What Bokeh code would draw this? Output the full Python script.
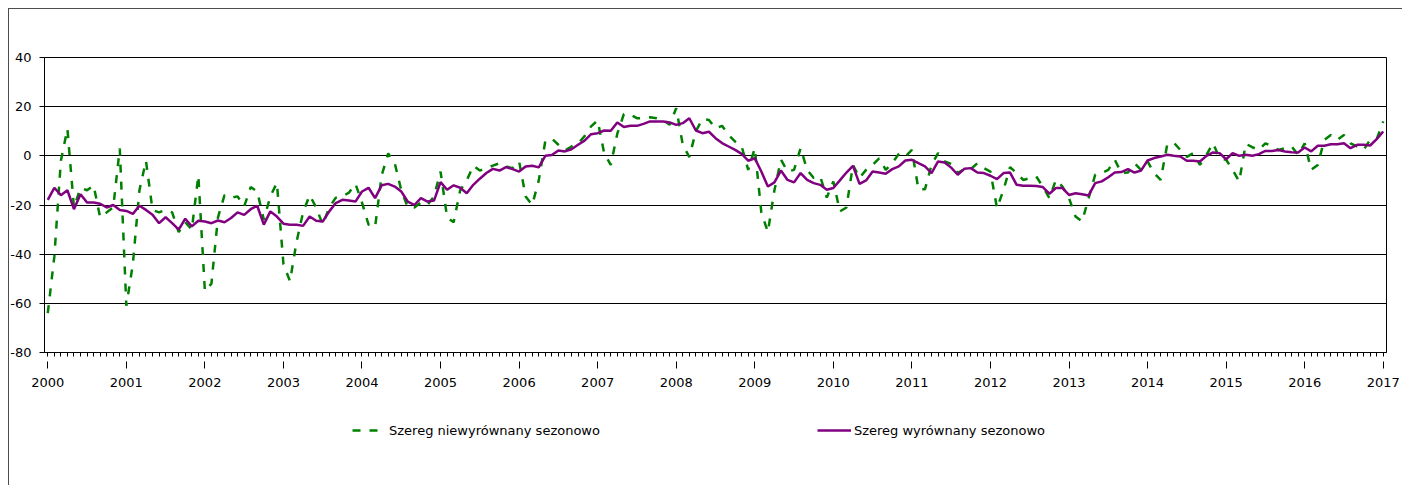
from bokeh.plotting import figure
from bokeh.layouts import column
from bokeh.models import FixedTicker, Legend, LegendItem, Range1d
from bokeh.embed import file_html
from bokeh.resources import INLINE

# ---- data (monthly, Jan 2000 .. Jan 2017) ----
years = [str(y) for y in range(2000, 2018)]
y_ticks = [-80, -60, -40, -20, 0, 20, 40]
labels = ["Szereg niewyrównany sezonowo", "Szereg wyrównany sezonowo"]

unadjusted = [
    -64, -41, -2, 11, -21, -13, -14, -12, -25, -23, -21, 3,            # 2000
    -61, -44, -14, -2, -22, -23, -22, -23, -31, -27, -30, -8,          # 2001
    -55, -52, -25, -16, -17, -16.5, -20.6, -12.7, -14.5, -26, -16.5, -11,  # 2002
    -44, -51, -35, -23, -16, -21, -28, -21, -17, -16.5, -15, -11.4,    # 2003
    -19, -28, -29, -8, 1, -3, -14, -21, -21, -19, -20, -16.5,          # 2004
    -6.4, -25, -27, -14, -10, -4, -6, -5, -4, -3, -4.3, -5,            # 2005
    -2.3, -16.5, -20, -10, 6, 7, 4.5, 2.2, 3.8, 5, 8, 12,              # 2006
    14.4, 1, -3.7, 9, 17, 16.7, 15.3, 15.3, 15.7, 15.3, 14.6, 12.6,    # 2007
    19.4, 4.5, -0.5, 10, 15, 14.6, 11.2, 12.2, 8.5, 5.8, 3.8, -5.7,    # 2008
    3.1, -23, -31, -14, -1.6, -6.4, -5.7, 3.1, -5.7, -9, -8.4, -17,    # 2009
    -10.4, -22.6, -21, -3.7, -9, -5.7, -3.7, -1, -5.7, -3, 0.8, -0.3,  # 2010
    2.4, -13.6, -13.6, -3.7, 1.1, -2.3, -3.3, -7, -5.4, -5.4, -3, -5,  # 2011
    -6.4, -21.3, -13.8, -4.6, -7, -9.8, -9.1, -8.4, -12.5, -17.2, -9.8, -12.5,  # 2012
    -17.2, -24.7, -26.7, -17.2, -7.7, -7, -5.7, -1.6, -7, -6.8, -3, -5.7,  # 2013
    -2.3, -7, -9.8, 4.5, 5.4, 2.4, -0.4, 1.1, -3.7, 0.4, 5.1, -1,      # 2014
    -1.6, -5.7, -10.4, 4.9, 3.5, 2.4, 5.1, 3.8, 2.4, 3.1, 3.8, 0.4,    # 2015
    5.1, -5.7, -3.7, 6.5, 8.5, 6.5, 8.5, 5.1, 3.8, 2.4, 6.5, 6.8,      # 2016
    14,                                                                # 2017
]

adjusted = [
    -17.9, -13, -16, -14, -21.7, -15.6, -19, -19, -19.5, -21, -20, -22,        # 2000
    -22.4, -23.6, -20.3, -22, -24, -27.4, -25, -27.4, -30, -25.6, -28.7, -26.4,  # 2001
    -26.7, -27.4, -26.3, -27, -25.3, -23, -24, -21.7, -20.3, -28, -22.6, -24.7,  # 2002
    -27.6, -28, -28, -28.5, -24.7, -26.4, -26.7, -22.6, -19.2, -17.9, -18.2, -18.6,  # 2003
    -14.5, -13, -17.2, -12, -11.4, -12.5, -14.5, -18.6, -20, -17.2, -18.6, -18.2,  # 2004
    -10.7, -13.8, -12, -13, -15.2, -11.8, -9.3, -7, -5.3, -6, -4.6, -5.4,      # 2005
    -6.4, -4.3, -4, -4.7, 0, 0.3, 2.2, 1.8, 2.7, 4.5, 6.2, 8.8,                # 2006
    9.2, 10.3, 10.2, 13.6, 11.7, 12.2, 12.2, 13, 14, 14, 14, 13.6,             # 2007
    12.6, 13.3, 15.3, 10.3, 9.2, 9.8, 7.2, 5.2, 3.8, 2.4, 0.8, -2,             # 2008
    -1, -6.4, -12.5, -10.8, -6, -9.8, -10.8, -7, -9.8, -11.1, -11.8, -13.8,    # 2009
    -13.1, -10, -6.8, -4.1, -11.4, -10, -6.4, -6.8, -7.3, -5.4, -4.3, -1.9,    # 2010
    -1.6, -3, -4.3, -7, -2.3, -2.7, -4.8, -7.7, -5.3, -5, -6.8, -7,            # 2011
    -8.1, -9.5, -7, -6.8, -11.8, -12.2, -12.2, -12.3, -12.7, -15.4, -13.1, -13.1,  # 2012
    -15.9, -15.2, -15.6, -16.1, -11.1, -10.4, -8.7, -6.8, -6.6, -5.4, -6.8, -6,  # 2013
    -1.9, -0.9, -0.3, 0.4, 0, -0.3, -2, -2, -2.3, 0, 1.4, 1.1,                 # 2014
    -1.4, 1.1, 0, 0.4, 0, 0.7, 2, 2, 2.4, 1.8, 1.5, 1.4,                       # 2015
    3.4, 1.8, 4.1, 4.1, 4.7, 4.7, 5.1, 3.1, 4.5, 4.5, 4.2, 6.8,                # 2016
    9.9,                                                                       # 2017
]

month_index = list(range(len(unadjusted)))

FONT = "DejaVu Sans"
FS = "13px"
FRAME_COL = "#4d4d4d"
GREEN = "#008000"
PURPLE = "#800080"

# ---------------- main chart ----------------
p = figure(width=1402, height=400, output_backend="svg", toolbar_location=None,
           x_range=Range1d(-0.5, len(unadjusted) - 0.5), y_range=Range1d(-80, 40),
           min_border_left=44, min_border_right=16, min_border_top=57,
           min_border_bottom=48)
p.border_fill_alpha = 0
p.background_fill_color = "white"
p.outline_line_color = "black"
p.outline_line_width = 1

p.xaxis.ticker = FixedTicker(ticks=[12 * k for k in range(len(years))],
                             minor_ticks=month_index)
p.xaxis.major_label_overrides = {12 * k: years[k] for k in range(len(years))}
p.xaxis.major_tick_in = -9
p.xaxis.major_tick_out = 16
p.xaxis.minor_tick_in = 0
p.xaxis.minor_tick_out = 4
p.xaxis.major_label_standoff = 9
p.xaxis.axis_line_color = "black"
p.xaxis.major_tick_line_color = "black"
p.xaxis.minor_tick_line_color = "black"
p.xaxis.major_label_text_font = FONT
p.xaxis.major_label_text_font_size = FS
p.xaxis.major_label_text_color = "black"

p.yaxis.ticker = FixedTicker(ticks=y_ticks)
p.yaxis.major_label_overrides = {t: str(t) for t in y_ticks}
p.yaxis.major_tick_in = 0
p.yaxis.major_tick_out = 5
p.yaxis.minor_tick_line_color = None
p.yaxis.major_label_standoff = 8
p.yaxis.axis_line_color = "black"
p.yaxis.major_tick_line_color = "black"
p.yaxis.major_label_text_font = FONT
p.yaxis.major_label_text_font_size = FS
p.yaxis.major_label_text_color = "black"

p.xgrid.visible = False
p.ygrid.ticker = FixedTicker(ticks=y_ticks)
p.ygrid.grid_line_color = "black"
p.ygrid.grid_line_width = 1

p.line(month_index, unadjusted, line_color=GREEN, line_width=2.5, line_dash="8 9")
p.line(month_index, adjusted, line_color=PURPLE, line_width=2.5)

# ---------------- legend strip ----------------
# the same series are drawn here far outside the visible range, only so that
# the legend has styled renderers to show samples for
q = figure(width=1402, height=85, output_backend="svg", toolbar_location=None,
           x_range=Range1d(-1001, -1000), y_range=Range1d(0, 1),
           x_axis_type=None, y_axis_type=None,
           min_border_left=0, min_border_right=0, min_border_top=0,
           min_border_bottom=0)
q.border_fill_alpha = 0
q.background_fill_alpha = 0
q.outline_line_color = None
q.grid.visible = False
lg1 = q.line(month_index, unadjusted, line_color=GREEN, line_width=2.5,
             line_dash="8 9")
lg2 = q.line(month_index, adjusted, line_color=PURPLE, line_width=2.5)

legend = Legend(items=[LegendItem(label=labels[0], renderers=[lg1]),
                       LegendItem(label=labels[1], renderers=[lg2])],
                location=(308, 45), orientation="horizontal",
                padding=0, margin=0, spacing=217,
                glyph_width=34, glyph_height=20, label_height=20,
                label_standoff=3,
                border_line_color=None, background_fill_alpha=0,
                label_text_font=FONT, label_text_font_size=FS,
                label_text_color="black")
q.add_layout(legend)

layout = column(p, q, spacing=0)
# outer chart-area frame (left and top edges are visible in the window)
layout.styles = {
    "background-color": "white",
    "background-image": f"linear-gradient({FRAME_COL}, {FRAME_COL}), linear-gradient({FRAME_COL}, {FRAME_COL})",
    "background-size": "1px 100%, 100% 1px",
    "background-position": "8px 8px, 8px 8px",
    "background-repeat": "no-repeat",
}

open("out.html", "w").write(file_html(layout, INLINE))
